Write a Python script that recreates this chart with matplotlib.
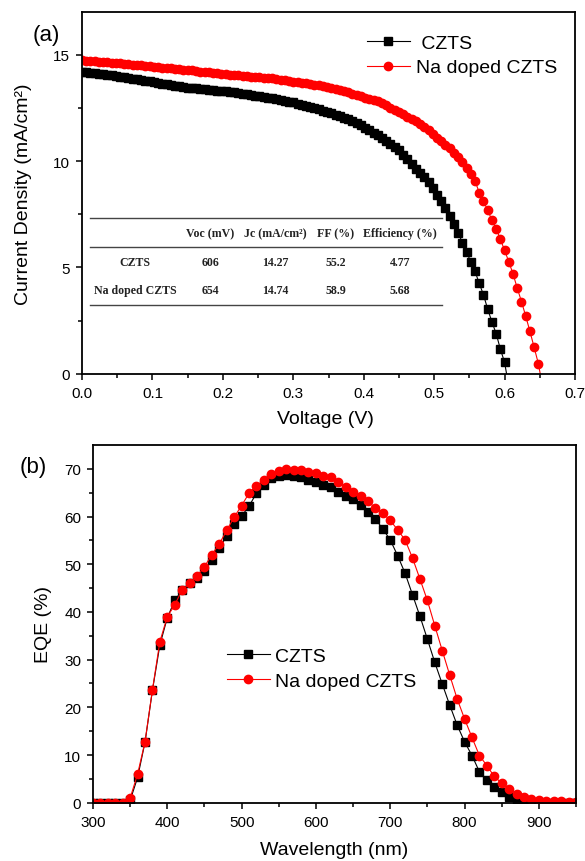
import matplotlib
matplotlib.use("Agg")
import matplotlib.pyplot as plt
import numpy as np

plt.rcParams['font.family'] = ['Liberation Sans', 'DejaVu Sans']

# ---- (a) J-V data, voltage in mV, current density in mA/cm2
v_czts = [0, 6, 12, 18, 24, 30, 36, 42, 48, 54, 60, 66, 72, 78, 84, 90, 96, 102, 108, 114,
          120, 126, 132, 138, 144, 150, 156, 162, 168, 174, 180, 186, 192, 198, 204, 210, 216,
          222, 228, 234, 240, 246, 252, 258, 264, 270, 276, 282, 288, 294, 300, 306, 312, 318,
          324, 330, 336, 342, 348, 354, 360, 366, 372, 378, 384, 390, 396, 402, 408, 414, 420,
          426, 432, 438, 444, 450, 456, 462, 468, 474, 480, 486, 492, 498, 504, 510, 516, 522,
          528, 534, 540, 546, 552, 558, 564, 570, 576, 582, 588, 594, 600, 606]
j_czts = [14.17, 14.16, 14.14, 14.12, 14.10, 14.08, 14.05, 14.02, 13.99, 13.96, 13.93, 13.90,
          13.87, 13.84, 13.80, 13.77, 13.74, 13.70, 13.67, 13.63, 13.60, 13.57, 13.54, 13.51,
          13.48, 13.45, 13.43, 13.41, 13.39, 13.37, 13.35, 13.33, 13.31, 13.29, 13.27, 13.25,
          13.22, 13.19, 13.16, 13.13, 13.10, 13.07, 13.04, 13.01, 12.98, 12.95, 12.91, 12.87,
          12.83, 12.79, 12.75, 12.70, 12.65, 12.60, 12.55, 12.50, 12.44, 12.37, 12.30, 12.24,
          12.17, 12.10, 12.02, 11.95, 11.88, 11.80, 11.69, 11.57, 11.45, 11.33, 11.20, 11.06,
          10.92, 10.78, 10.64, 10.50, 10.29, 10.08, 9.87, 9.63, 9.45, 9.24, 9.00, 8.72, 8.42,
          8.12, 7.78, 7.42, 7.03, 6.64, 6.17, 5.74, 5.26, 4.82, 4.26, 3.72, 3.05, 2.45, 1.90,
          1.17, 0.55, -0.60]

v_na = [0, 6, 12, 18, 24, 30, 36, 42, 48, 54, 60, 66, 72, 78, 84, 90, 96, 102, 108, 114,
        120, 126, 132, 138, 144, 150, 156, 162, 168, 174, 180, 186, 192, 198, 204, 210, 216,
        222, 228, 234, 240, 246, 252, 258, 264, 270, 276, 282, 288, 294, 300, 306, 312, 318,
        324, 330, 336, 342, 348, 354, 360, 366, 372, 378, 384, 390, 396, 402, 408, 414, 420,
        426, 432, 438, 444, 450, 456, 462, 468, 474, 480, 486, 492, 498, 504, 510, 516, 522,
        528, 534, 540, 546, 552, 558, 564, 570, 576, 582, 588, 594, 600, 606, 612, 618, 624,
        630, 636, 642, 648, 654]
j_na = [14.72, 14.71, 14.69, 14.68, 14.66, 14.64, 14.63, 14.61, 14.60, 14.58, 14.57, 14.55,
        14.53, 14.51, 14.49, 14.47, 14.45, 14.43, 14.41, 14.39, 14.37, 14.35, 14.33, 14.31,
        14.29, 14.27, 14.25, 14.23, 14.20, 14.18, 14.16, 14.14, 14.12, 14.10, 14.08, 14.06,
        14.04, 14.02, 14.00, 13.98, 13.96, 13.95, 13.93, 13.91, 13.90, 13.88, 13.85, 13.82,
        13.79, 13.75, 13.72, 13.69, 13.66, 13.64, 13.61, 13.58, 13.55, 13.51, 13.48, 13.44,
        13.40, 13.34, 13.28, 13.22, 13.16, 13.10, 13.04, 12.98, 12.93, 12.87, 12.82, 12.72,
        12.61, 12.51, 12.40, 12.30, 12.19, 12.08, 11.97, 11.86, 11.75, 11.59, 11.44, 11.28,
        11.09, 10.94, 10.77, 10.59, 10.38, 10.17, 9.95, 9.68, 9.39, 9.07, 8.52, 8.10, 7.70,
        7.22, 6.83, 6.33, 5.81, 5.27, 4.70, 4.03, 3.40, 2.72, 2.00, 1.25, 0.48, -0.60]

# ---- table inside (a)
table_header = ['Voc (mV)', 'Jc (mA/cm²)', 'FF (%)', 'Efficiency (%)']
table_rows = ['CZTS', 'Na doped CZTS']
voc = ['606', '654']
jc = ['14.27', '14.74']
ff = ['55.2', '58.9']
eff = ['4.77', '5.68']

# ---- (b) EQE data
wl = [300, 310, 320, 330, 340, 350, 360, 370, 380, 390, 400, 410, 420, 430, 440, 450, 460,
      470, 480, 490, 500, 510, 520, 530, 540, 550, 560, 570, 580, 590, 600, 610, 620, 630,
      640, 650, 660, 670, 680, 690, 700, 710, 720, 730, 740, 750, 760, 770, 780, 790, 800,
      810, 820, 830, 840, 850, 860, 870, 880, 890, 900, 910, 920, 930, 940, 950]
eqe_czts = [0, 0, 0, 0, 0, 0.5, 5.3, 12.7, 23.6, 33.1, 38.8, 42.4, 44.6, 46.0, 47.2, 48.5,
            50.9, 53.4, 55.9, 58.5, 60.1, 62.2, 64.9, 66.7, 68.0, 68.6, 68.8, 68.6, 68.2, 67.7,
            67.2, 66.7, 66.2, 65.1, 64.4, 63.6, 62.5, 60.9, 59.5, 57.4, 55.1, 51.8, 48.1, 43.6,
            39.1, 34.3, 29.4, 24.9, 20.5, 16.3, 12.8, 9.9, 6.5, 4.8, 3.4, 2.2, 1.3, 0.6, 0.2,
            0.1, 0, 0, 0, 0, 0, 0]
eqe_na = [0, 0, 0, 0, 0, 1.0, 6.0, 12.8, 23.7, 33.8, 39.0, 41.5, 44.6, 46.0, 47.5, 49.5,
          52.0, 54.3, 57.1, 59.9, 62.3, 64.9, 66.4, 67.7, 68.9, 69.6, 69.9, 69.8, 69.7, 69.3,
          69.2, 68.6, 68.3, 67.2, 66.2, 65.2, 64.3, 63.2, 61.8, 60.7, 59.2, 57.2, 55.1, 51.3,
          46.9, 42.4, 37.1, 31.9, 26.8, 21.8, 17.6, 13.7, 9.9, 7.8, 5.5, 4.1, 2.9, 1.8, 1.1,
          0.8, 0.6, 0.4, 0.3, 0.3, 0.2, 0.2]

RED = '#ff0000'


def style_axes(ax):
    for s in ax.spines.values():
        s.set_linewidth(1.3)
    ax.tick_params(which='both', direction='out', top=False, right=False,
                   width=1.1, labelsize=11, pad=4)
    ax.tick_params(which='major', length=4.5)
    ax.tick_params(which='minor', length=3)


fig = plt.figure(figsize=(5.85, 8.62), dpi=100)

# ---------------- (a)
ax1 = fig.add_axes([0.1402, 0.565, 0.8427, 0.42])
ax1.plot(np.array(v_czts) / 1000, j_czts, '-s', color='black', ms=5.8, lw=0.8, label=' CZTS')
ax1.plot(np.array(v_na) / 1000, j_na, '-o', color=RED, ms=6.0, lw=0.8, label='Na doped CZTS')
ax1.set_xlim(0, 0.7)
ax1.set_ylim(0, 17)
ax1.set_xticks(np.arange(0, 0.71, 0.1))
ax1.set_xticks(np.arange(0.05, 0.7, 0.1), minor=True)
ax1.set_yticks([0, 5, 10, 15])
ax1.set_yticks([2.5, 7.5, 12.5], minor=True)
ax1.xaxis.set_major_formatter(matplotlib.ticker.FormatStrFormatter('%.1f'))
style_axes(ax1)
ax1.set_xlabel('Voltage (V)', fontsize=14)
ax1.set_ylabel('Current Density (mA/cm²)', fontsize=14)
ax1.xaxis.set_label_coords(0.493, -0.1)
ax1.yaxis.set_label_coords(-0.101, 0.5)
ax1.legend(loc='upper left', bbox_to_anchor=(0.578, 0.938), frameon=False, fontsize=14,
           handlelength=2.2, handletextpad=0.3, labelspacing=0.35, borderpad=0,
           borderaxespad=0)
fig.text(0.079, 0.959, '(a)', fontsize=16, ha='center', va='center')

# table drawn in axes fraction
tkw = dict(transform=ax1.transAxes, family=['Liberation Serif', 'DejaVu Serif'],
           fontsize=8.6, fontweight='bold', color='#222222', ha='center', va='center')
line_kw = dict(transform=ax1.transAxes, color='#444444', lw=1.0)
for yl in (0.430, 0.350, 0.191):
    ax1.plot([0.016, 0.730], [yl, yl], **line_kw)
col_x = [0.260, 0.393, 0.515, 0.645]
for cx, h in zip(col_x, table_header):
    ax1.text(cx, 0.3895, h, **tkw)
for ry, name, a, b, c, d in zip([0.3086, 0.2329], table_rows, voc, jc, ff, eff):
    ax1.text(0.1075, ry, name, **tkw)
    for cx, val in zip(col_x, (a, b, c, d)):
        ax1.text(cx, ry, val, **tkw)

# ---------------- (b)
ax2 = fig.add_axes([0.159, 0.0676, 0.8256, 0.415])
ax2.plot(wl, eqe_czts, '-s', color='black', ms=5.6, lw=0.8, label='CZTS')
ax2.plot(wl, eqe_na, '-o', color=RED, ms=6.0, lw=0.8, label='Na doped CZTS')
ax2.set_xlim(300, 950)
ax2.set_ylim(0, 75)
ax2.set_xticks(np.arange(300, 901, 100))
ax2.set_xticks(np.arange(350, 951, 100), minor=True)
ax2.set_yticks(np.arange(0, 71, 10))
ax2.set_yticks(np.arange(5, 75, 10), minor=True)
style_axes(ax2)
ax2.set_xlabel('Wavelength (nm)', fontsize=14)
ax2.set_ylabel('EQE (%)', fontsize=14)
ax2.xaxis.set_label_coords(0.5, -0.108)
ax2.yaxis.set_label_coords(-0.085, 0.5)
ax2.legend(loc='upper left', bbox_to_anchor=(0.277, 0.434), frameon=False, fontsize=14,
           handlelength=2.2, handletextpad=0.3, labelspacing=0.35, borderpad=0,
           borderaxespad=0)
fig.text(0.056, 0.458, '(b)', fontsize=16, ha='center', va='center')

fig.savefig('out.png', dpi=100)
